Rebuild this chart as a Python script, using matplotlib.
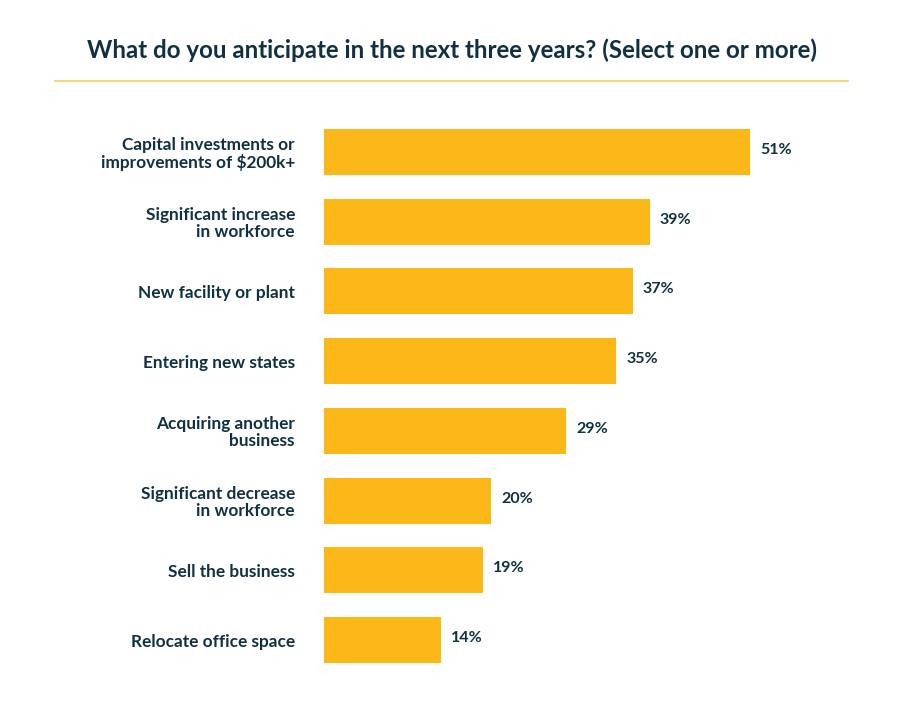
import matplotlib
matplotlib.use("Agg")
import matplotlib.pyplot as plt
from matplotlib.lines import Line2D

categories = [
    "Capital investments or\nimprovements of $200k+",
    "Significant increase\nin workforce",
    "New facility or plant",
    "Entering new states",
    "Acquiring another\nbusiness",
    "Significant decrease\nin workforce",
    "Sell the business",
    "Relocate office space",
]
values = [51, 39, 37, 35, 29, 20, 19, 14]
value_labels = ["51%", "39%", "37%", "35%", "29%", "20%", "19%", "14%"]
title = "What do you anticipate in the next three years? (Select one or more)"

BAR = "#FBB617"
TEXT = "#0F3142"
FONT = "Lato"

W, H = 903, 721
fig = plt.figure(figsize=(W / 100, H / 100), dpi=100)
fig.patch.set_facecolor("white")

ax_left, ax_right = 324, 848
ax_top, ax_bottom = 117.2, 674.9
ax = fig.add_axes([ax_left / W, (H - ax_bottom) / H,
                   (ax_right - ax_left) / W, (ax_bottom - ax_top) / H])
px_per_pct = 8.35
ax.set_xlim(0, (ax_right - ax_left) / px_per_pct)
ax.set_ylim(len(values) - 0.5, -0.5)

ypos = list(range(len(values)))
ax.barh(ypos, values, height=0.66, color=BAR, edgecolor="none")
for y, v, lab in zip(ypos, values, value_labels):
    ax.annotate(lab, (v, y), xytext=(10 * 0.72, 2 * 0.72), textcoords="offset points",
                ha="left", va="center", fontsize=11.5, fontweight="bold",
                color=TEXT, family=FONT)

ax.set_yticks(ypos)
ax.set_yticklabels(categories, fontsize=12.4, fontweight="bold", color=TEXT,
                   family=FONT, ha="right", linespacing=1.05)
ax.tick_params(axis="y", length=0, pad=29 * 0.72)
ax.set_xticks([])
for s in ax.spines.values():
    s.set_visible(False)

fig.text(452 / W, 1 - 50 / H, title, ha="center", va="center",
         fontsize=17.4, fontweight="bold", color=TEXT, family=FONT)
fig.add_artist(Line2D([55 / W, 848 / W], [1 - 81 / H, 1 - 81 / H],
                      transform=fig.transFigure, color="#F5CF5E", lw=1.2))

fig.savefig("out.png", dpi=100, facecolor="white")
